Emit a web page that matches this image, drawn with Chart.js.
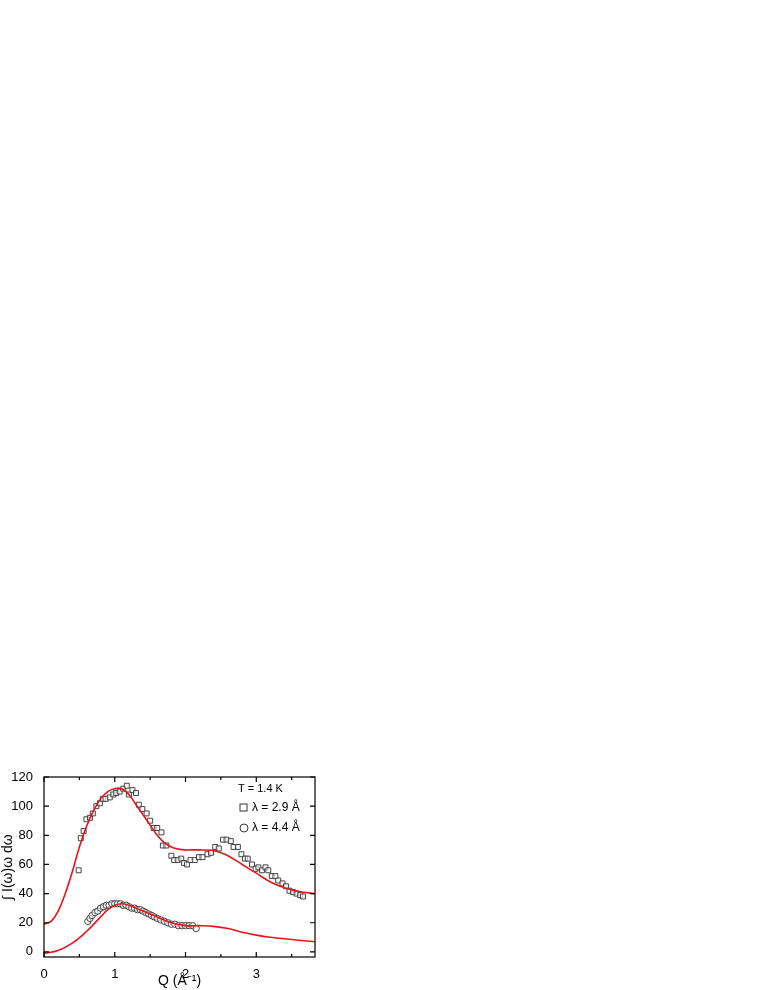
<!DOCTYPE html>
<html><head><meta charset="utf-8">
<script src="https://cdn.jsdelivr.net/npm/chart.js@4/dist/chart.umd.min.js"></script>
<style>body{margin:0;width:765px;height:990px;background:#fff;position:relative}
#wrap{position:absolute;left:0;top:765px;width:320px;height:225px}</style>
</head><body><div id="wrap"><canvas id="myChart" width="320" height="225"></canvas></div>
<script>
// measured points, lambda = 2.9 A (squares)
const qSq = [0.49,0.52,0.56,0.60,0.65,0.69,0.74,0.79,0.83,0.87,0.93,0.98,1.02,1.07,1.12,1.17,1.20,1.25,1.30,1.34,1.39,1.45,1.50,1.55,1.60,1.66,1.68,1.73,1.80,1.84,1.89,1.94,1.98,2.02,2.07,2.13,2.19,2.24,2.31,2.36,2.42,2.47,2.53,2.58,2.64,2.68,2.74,2.79,2.84,2.88,2.94,2.99,3.03,3.08,3.13,3.17,3.22,3.27,3.31,3.37,3.42,3.47,3.52,3.57,3.62,3.66];
const iSq = [56,78,83,91,92,95,100,102,105,105,106,108,109,110,112,114,108,111,109,101,98,95,90,85,85,82,73,73,66,63,63,64,61,60,63,63,65,65,67,68,72,71,77,77,76,72,72,67,64,64,60,57,58,56,58,56,52,52,49,47,45,42,41,40,39,38];
// measured points, lambda = 4.4 A (circles)
const qCi = [0.62,0.65,0.68,0.72,0.76,0.80,0.84,0.88,0.92,0.96,1.00,1.04,1.08,1.12,1.16,1.20,1.24,1.28,1.32,1.36,1.40,1.44,1.48,1.52,1.56,1.60,1.65,1.70,1.75,1.80,1.85,1.90,1.95,2.00,2.05,2.10,2.15];
const iCi = [21,23,25,27,28,30,31,32,32,33,33,33,33,32,32,31,30,30,29,29,28,27,26,25,24,23,22,21,20,19,19,18,18,18,18,18,16];
// fit curves
const qFitA = [0,0.1,0.2,0.3,0.4,0.5,0.6,0.7,0.8,0.9,1.0,1.1,1.2,1.3,1.4,1.5,1.6,1.7,1.8,1.9,2.0,2.2,2.4,2.5,2.6,2.8,3.0,3.2,3.4,3.6,3.83];
const iFitA = [19,21,28,40,55,72,86,97,105,110,112,112,108,101,94,87,80,75,72,70.5,70,70,69.5,68,66,60,54,48,44,41.5,40];
const qFitB = [0,0.2,0.4,0.6,0.8,0.9,1.0,1.1,1.2,1.4,1.6,1.8,2.0,2.2,2.4,2.6,2.8,3.0,3.2,3.4,3.6,3.83];
const iFitB = [-1,1,6,14,24,29,32,33,32,28,24,20,18,18,17.5,16,13.5,11.5,10,9,8,7];
const xTicks = [0,1,2,3];
const yTicks = [0,20,40,60,80,100,120];

const pts = (xs, ys) => xs.map((x, i) => ({x: x, y: ys[i]}));
const FONT = 'Liberation Sans, Arial, sans-serif';

const frame = {
  id: 'frame',
  afterDraw(chart) {
    const c = chart.ctx, a = chart.chartArea, xs = chart.scales.x, ys = chart.scales.y;
    c.save();
    c.strokeStyle = '#000'; c.lineWidth = 1.2;
    c.strokeRect(a.left, a.top, a.right - a.left, a.bottom - a.top);
    c.beginPath();
    xTicks.forEach(v => { const p = xs.getPixelForValue(v); c.moveTo(p, a.bottom); c.lineTo(p, a.bottom - 5); c.moveTo(p, a.top); c.lineTo(p, a.top + 5); });
    [0.5,1.5,2.5,3.5].forEach(v => { const p = xs.getPixelForValue(v); c.moveTo(p, a.bottom); c.lineTo(p, a.bottom - 3); c.moveTo(p, a.top); c.lineTo(p, a.top + 3); });
    yTicks.forEach(v => { const p = ys.getPixelForValue(v); c.moveTo(a.left, p); c.lineTo(a.left + 5, p); c.moveTo(a.right, p); c.lineTo(a.right - 5, p); });
    c.stroke();
    // legend
    c.fillStyle = '#000'; c.font = '11px ' + FONT; c.textBaseline = 'middle';
    c.fillText('T = 1.4 K', 238, 24);
    c.font = '12px ' + FONT;
    c.fillText('\u03bb = 2.9 \u00c5', 252, 43);
    c.fillText('\u03bb = 4.4 \u00c5', 252, 63);
    c.strokeStyle = '#333'; c.lineWidth = 1;
    c.strokeRect(240, 39, 7, 7);
    c.beginPath(); c.arc(244, 63, 4, 0, Math.PI * 2); c.stroke();
    c.restore();
  }
};

const ctx = document.getElementById('myChart').getContext('2d');
const myChart = new Chart(ctx, {
  type: 'scatter',
  data: {
    datasets: [
      { data: pts(qFitA, iFitA), showLine: true, borderColor: '#e8141a', borderWidth: 1.6, pointRadius: 0, tension: 0.4 },
      { data: pts(qFitB, iFitB), showLine: true, borderColor: '#e8141a', borderWidth: 1.6, pointRadius: 0, tension: 0.4 },
      { data: pts(qSq, iSq), pointStyle: 'rect', pointRadius: 3.5, borderColor: '#444', borderWidth: 1, backgroundColor: 'rgba(255,255,255,0.6)' },
      { data: pts(qCi, iCi), pointStyle: 'circle', pointRadius: 3.2, borderColor: '#444', borderWidth: 1, backgroundColor: 'rgba(255,255,255,0.6)' }
    ]
  },
  options: {
    responsive: false, animation: false, devicePixelRatio: 1,
    layout: { padding: { top: 12, right: 5, left: 0, bottom: 0 } },
    plugins: { legend: { display: false }, tooltip: { enabled: false } },
    scales: {
      x: {
        type: 'linear', min: 0, max: 3.83,
        afterBuildTicks: s => { s.ticks = xTicks.map(v => ({value: v})); },
        afterFit: s => { s.height = 33; },
        grid: { display: false }, border: { display: false },
        ticks: { color: '#000', font: { family: FONT, size: 13 }, padding: 2, autoSkip: false, maxRotation: 0 },
        title: { display: true, text: 'Q (\u00c5\u207b\u00b9)', color: '#000', font: { family: FONT, size: 14 }, padding: 0 }
      },
      y: {
        min: -3.5, max: 120,
        afterBuildTicks: s => { s.ticks = yTicks.map(v => ({value: v})); },
        afterFit: s => { s.width = 44; },
        grid: { display: false }, border: { display: false },
        ticks: { color: '#000', font: { family: FONT, size: 13 }, padding: 3, autoSkip: false },
        title: { display: true, text: '\u222b I(\u03c9)\u03c9 d\u03c9', color: '#000', font: { family: FONT, size: 14 }, padding: 0 }
      }
    }
  },
  plugins: [frame]
});
</script></body></html>
